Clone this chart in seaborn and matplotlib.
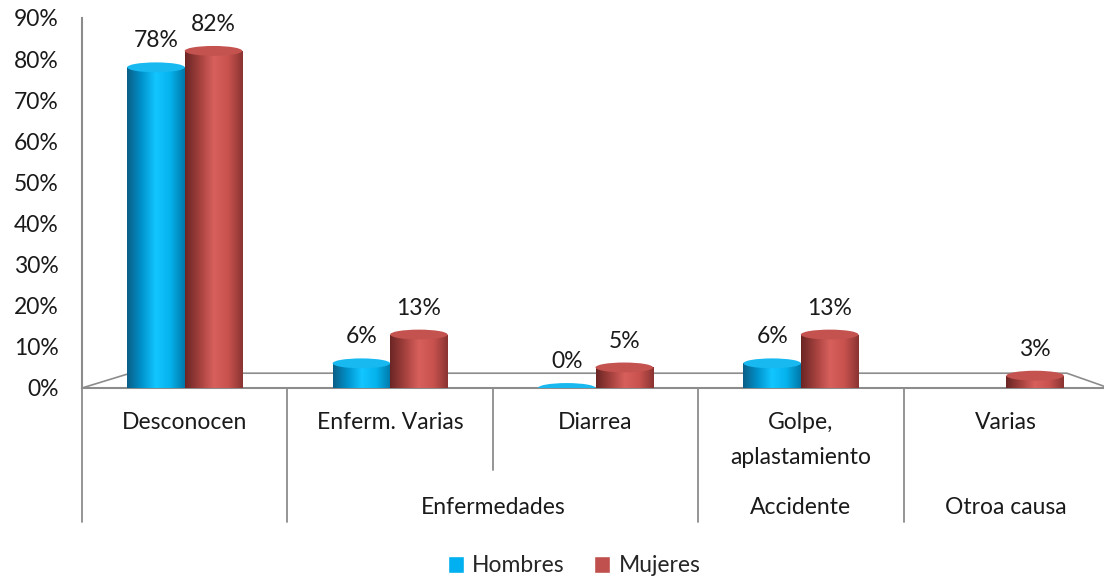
import numpy as np
import pandas as pd
import seaborn as sns
import matplotlib.pyplot as plt
from matplotlib.patches import Ellipse
from matplotlib.colors import LinearSegmentedColormap
from matplotlib.transforms import blended_transform_factory

# datos
causas = ['Desconocen', 'Enferm. Varias', 'Diarrea', 'Golpe,\naplastamiento', 'Varias']
grupos = ['', 'Enfermedades', 'Accidente', 'Otroa causa']
grupo_inicio = [0, 1, 3, 4]
grupo_fin = [0, 2, 3, 4]
hombres = [78, 6, 0, 6, np.nan]
mujeres = [82, 13, 5, 13, 3]
series = ['Hombres', 'Mujeres']
yticks = [0, 10, 20, 30, 40, 50, 60, 70, 80, 90]

colores = {'Hombres': '#00B0F0', 'Mujeres': '#C0504D'}
degradados = {
    'Hombres': ['#0B5E86', '#0092CC', '#12C6FF', '#05B2EC', '#0078A8'],
    'Mujeres': ['#6A2624', '#A3403D', '#D8605C', '#C8524E', '#8A3432'],
}
tapas = {'Hombres': '#17B9F0', 'Mujeres': '#C4524F'}

df = pd.DataFrame({
    'causa': causas * 2,
    'sexo': ['Hombres'] * len(causas) + ['Mujeres'] * len(causas),
    'pct': hombres + mujeres,
})

sns.set_style('white')
plt.rcParams['font.family'] = ['Lato', 'DejaVu Sans']
gris = '#8C8C8C'
fs = 16.5

fig = plt.figure(figsize=(11.04, 5.84), dpi=100)
ax = fig.add_axes([82 / 1104, 196 / 584, 1027 / 1104, 370 / 584])

sns.barplot(
    data=df, x='causa', y='pct', hue='sexo', hue_order=series,
    order=causas, palette=colores, width=0.56, gap=0,
    saturation=1, ax=ax, legend=True,
)
handles, labels = ax.get_legend_handles_labels()
ax.get_legend().remove()

ax.set_yticks(yticks)
ax.set_yticklabels([f'{v}%' for v in yticks], fontsize=fs)
ax.set_xlabel('')
ax.set_ylabel('')

# cilindros: degradado + tapa
cap_h = 2.4
for cont, s in zip(ax.containers, series):
    cmap = LinearSegmentedColormap.from_list(s, degradados[s])
    grad = np.linspace(0, 1, 256).reshape(1, -1)
    for bar in cont:
        x0, w, h = bar.get_x(), bar.get_width(), bar.get_height()
        if np.isnan(h):
            continue
        if h > 0:
            im = ax.imshow(grad, cmap=cmap, aspect='auto',
                           extent=(x0, x0 + w, 0, h), zorder=3)
            im.set_clip_path(bar)
        ax.add_patch(Ellipse((x0 + w / 2, h), w, cap_h,
                             facecolor=tapas[s], edgecolor='none', zorder=4))
        ax.annotate(f'{h:.0f}%', (x0 + w / 2, h), xytext=(0, 19),
                    textcoords='offset points', ha='center', va='center',
                    fontsize=fs, color='#1A1A1A')
ax.set_xlim(-0.5, 4.5)
ax.set_ylim(0, 90)

for side in ['top', 'right']:
    ax.spines[side].set_visible(False)
for side in ['left', 'bottom']:
    ax.spines[side].set_color(gris)
    ax.spines[side].set_linewidth(1.5)
ax.tick_params(axis='y', length=5, width=1.2, color=gris, pad=12, labelcolor='#1A1A1A')
ax.tick_params(axis='x', length=0, pad=17, labelsize=fs, labelcolor='#1A1A1A')
for t in ax.get_xticklabels():
    t.set_linespacing(1.85)

# piso 3D
ax.plot([0, 0.047, 0.959, 1.0], [0, 0.04, 0.04, 0], transform=ax.transAxes,
        color=gris, lw=1.2, clip_on=False, zorder=1)

# separadores jerarquicos
tr = blended_transform_factory(ax.transData, ax.transAxes)
limites = [-0.5, 0.5, 1.5, 2.5, 3.5]
for b in limites:
    interno = any(ini < b + 0.5 <= fin for ini, fin in zip(grupo_inicio, grupo_fin))
    y_fin = -0.222 if interno else -0.362
    ax.plot([b, b], [0, y_fin], transform=tr, color=gris, lw=1.3, clip_on=False)

for g, ini, fin in zip(grupos, grupo_inicio, grupo_fin):
    ax.text((ini + fin) / 2, -0.322, g, transform=tr, ha='center', va='center',
            fontsize=fs, color='#1A1A1A')

fig.legend(handles, labels, loc='center', bbox_to_anchor=(0.52, 18 / 584),
           ncol=2, frameon=False, fontsize=fs, handlelength=0.7,
           handleheight=0.7, columnspacing=1.3, handletextpad=0.35)

fig.savefig('out.png', dpi=100)
